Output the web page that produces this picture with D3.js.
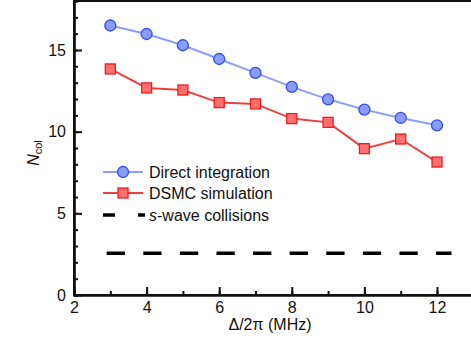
<!DOCTYPE html>
<html>
<head>
<meta charset="utf-8">
<script src="https://cdn.jsdelivr.net/npm/d3@7"></script>
<style>
  body { margin: 0; background: #fff; }
  text { font-family: "Liberation Sans", Arial, sans-serif; fill: #111; }
</style>
</head>
<body>
<div id="chart-area"></div>
<script>
// detuning values (MHz)
let detuning = [3, 4, 5, 6, 7, 8, 9, 10, 11, 12];
let directInt = [16.5, 15.98, 15.29, 14.45, 13.6, 12.74, 11.98, 11.35, 10.84, 10.39];
let dsmcSim = [13.84, 12.68, 12.55, 11.78, 11.7, 10.8, 10.57, 8.96, 9.55, 8.14];
let sWave = 2.55;
let sWaveRange = [2.9, 12.4];
let xMajorTicks = [2, 4, 6, 8, 10, 12];
let yMajorTicks = [0, 5, 10, 15];
let legendLabels = ["Direct integration", "DSMC simulation", "-wave collisions"];

let W = 471, H = 343;
let margin = {top: 2, right: 0, bottom: 48, left: 74};

let svg = d3.select("#chart-area").append("svg")
    .attr("width", W)
    .attr("height", H);

let x = d3.scaleLinear().domain([2, 13]).range([margin.left, margin.left + 11 * 36.3]);
let y = d3.scaleLinear().domain([0, 18]).range([295, 1]);

// frame
svg.append("rect")
    .attr("x", x(2)).attr("y", y(18))
    .attr("width", x(13) - x(2)).attr("height", y(0) - y(18))
    .attr("fill", "none").attr("stroke", "#111").attr("stroke-width", 2);

// minor ticks
let xMinor = d3.axisBottom(x).tickValues(d3.range(2, 14)).tickSize(-4).tickFormat("");
let yMinor = d3.axisLeft(y).tickValues(d3.range(0, 19)).tickSize(-4).tickFormat("");
svg.append("g").attr("transform", "translate(0," + y(0) + ")").call(xMinor);
svg.append("g").attr("transform", "translate(" + x(2) + ",0)").call(yMinor);

// major ticks
let xAxis = d3.axisBottom(x).tickValues(xMajorTicks).tickSizeInner(-8).tickSizeOuter(0).tickPadding(7);
let yAxis = d3.axisLeft(y).tickValues(yMajorTicks).tickSizeInner(-8).tickSizeOuter(0).tickPadding(8);

let xAxisGroup = svg.append("g").attr("class", "x-axis axis")
    .attr("transform", "translate(0," + y(0) + ")").call(xAxis);
let yAxisGroup = svg.append("g").attr("class", "y-axis axis")
    .attr("transform", "translate(" + x(2) + ",0)").call(yAxis);

svg.selectAll(".axis text").attr("font-size", 16).attr("fill", "#111")
    .style("font-family", "Liberation Sans, Arial, sans-serif");
svg.selectAll(".tick line").attr("stroke", "#111").attr("stroke-width", 2);
svg.selectAll(".domain").attr("stroke", "#111").attr("stroke-width", 2.2);

// axis titles
svg.append("text")
    .attr("x", 270).attr("y", 330)
    .attr("text-anchor", "middle")
    .attr("font-size", 16)
    .text("\u0394/2\u03c0 (MHz)");

let yTitle = svg.append("text")
    .attr("transform", "translate(39,153) rotate(-90)")
    .attr("text-anchor", "middle")
    .attr("font-size", 16);
yTitle.append("tspan").attr("font-style", "italic").text("N");
yTitle.append("tspan").attr("font-size", 11).attr("dy", 3).text("col");

// s-wave line
svg.append("line")
    .attr("x1", x(sWaveRange[0])).attr("x2", x(sWaveRange[1]))
    .attr("y1", y(sWave)).attr("y2", y(sWave))
    .attr("stroke", "#000").attr("stroke-width", 3.5)
    .attr("stroke-dasharray", "18.3,18.3");

let lineGen = d3.line().x(d => x(d[0])).y(d => y(d[1]));

// direct integration
svg.append("path")
    .datum(detuning.map((d, i) => [d, directInt[i]]))
    .attr("d", lineGen)
    .attr("fill", "none").attr("stroke", "#8c9dff").attr("stroke-width", 2);
svg.selectAll(".dot")
    .data(detuning.map((d, i) => [d, directInt[i]]))
    .enter().append("circle")
    .attr("class", "dot")
    .attr("cx", d => x(d[0])).attr("cy", d => y(d[1]))
    .attr("r", 5.5)
    .attr("fill", "#8a9cff").attr("stroke", "#2f4ff0").attr("stroke-width", 1.3);

// DSMC
svg.append("path")
    .datum(detuning.map((d, i) => [d, dsmcSim[i]]))
    .attr("d", lineGen)
    .attr("fill", "none").attr("stroke", "#ee4040").attr("stroke-width", 2);
svg.selectAll(".sq")
    .data(detuning.map((d, i) => [d, dsmcSim[i]]))
    .enter().append("rect")
    .attr("class", "sq")
    .attr("x", d => x(d[0]) - 5).attr("y", d => y(d[1]) - 5)
    .attr("width", 10).attr("height", 10)
    .attr("fill", "#ff6f6f").attr("stroke", "#ee1c1c").attr("stroke-width", 1.3);

// legend
let lg = svg.append("g");
lg.append("line").attr("x1", 103).attr("x2", 143).attr("y1", 172).attr("y2", 172)
    .attr("stroke", "#8c9dff").attr("stroke-width", 2);
lg.append("circle").attr("cx", 123).attr("cy", 172).attr("r", 5.5)
    .attr("fill", "#8a9cff").attr("stroke", "#2f4ff0").attr("stroke-width", 1.3);
lg.append("line").attr("x1", 103).attr("x2", 143).attr("y1", 193).attr("y2", 193)
    .attr("stroke", "#ee4040").attr("stroke-width", 2);
lg.append("rect").attr("x", 118).attr("y", 188).attr("width", 10).attr("height", 10)
    .attr("fill", "#ff6f6f").attr("stroke", "#ee1c1c").attr("stroke-width", 1.3);
lg.append("line").attr("x1", 103).attr("x2", 145).attr("y1", 215).attr("y2", 215)
    .attr("stroke", "#000").attr("stroke-width", 3.5)
    .attr("stroke-dasharray", "12,23");

lg.append("text").attr("x", 149).attr("y", 178).attr("font-size", 16).text(legendLabels[0]);
lg.append("text").attr("x", 149).attr("y", 199).attr("font-size", 16).text(legendLabels[1]);
let t3 = lg.append("text").attr("x", 149).attr("y", 221).attr("font-size", 16);
t3.append("tspan").attr("font-style", "italic").text("s");
t3.append("tspan").text(legendLabels[2]);
</script>
</body>
</html>
